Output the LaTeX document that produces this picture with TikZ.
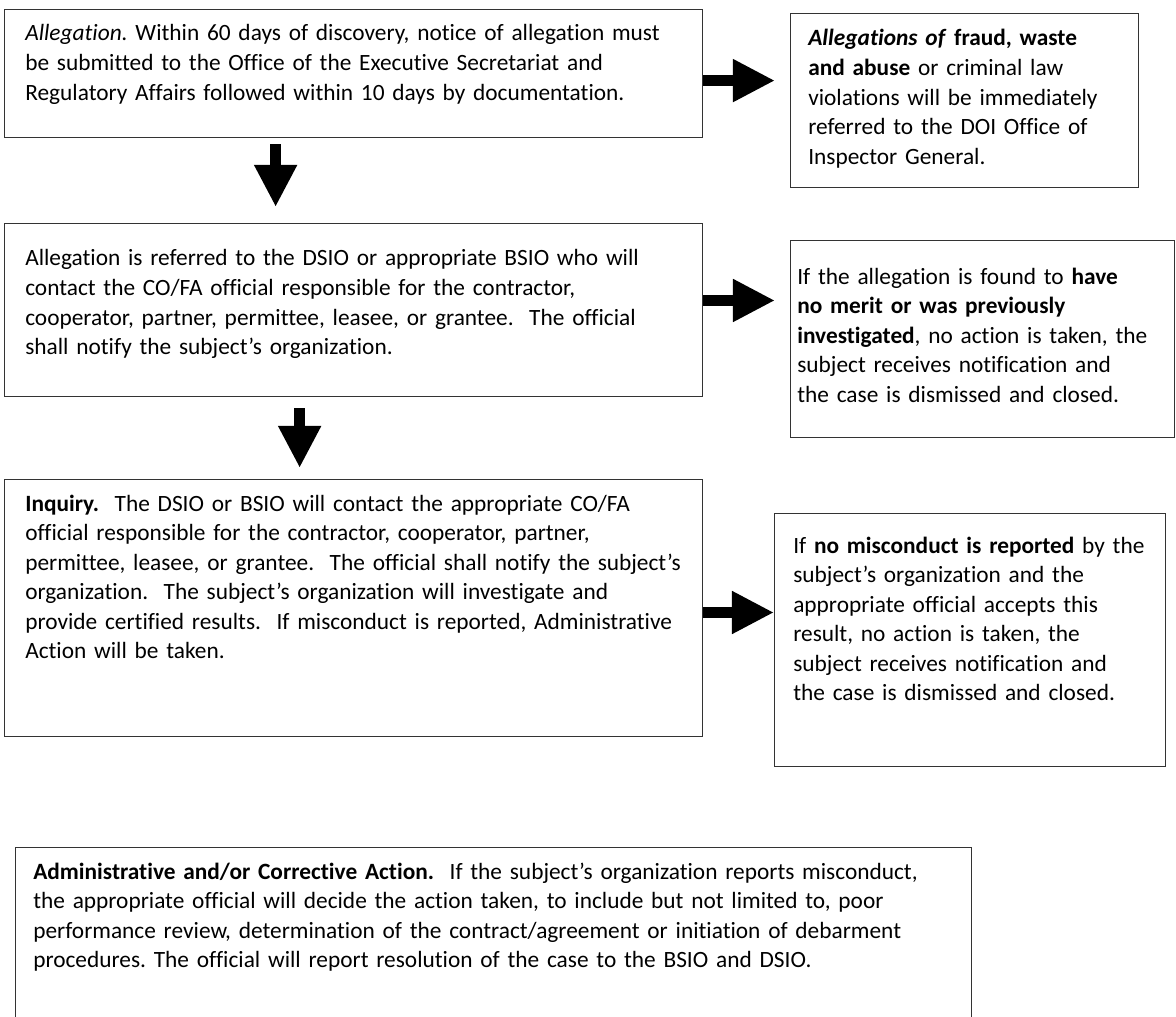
\documentclass[tikz,border=0pt]{standalone}
\usepackage{fontspec}
\setmainfont{Carlito}[Ligatures=NoCommon]
\frenchspacing
\usepackage{tikz}
\usetikzlibrary{arrows.meta, positioning}
\usepackage{xcolor}
\definecolor{boxline}{HTML}{333333}

\tikzset{
  flowbox/.style={draw=boxline, line width=0.8pt, anchor=north west, inner sep=0pt},
  flowtext/.style={anchor=base west, align=left, inner sep=0pt, font=\fontsize{16.6}{21}\selectfont},
  bigarrow/.style={line width=0.29cm, -{Triangle[length=1.05cm, width=1cm]}},
}

\begin{document}
\begin{tikzpicture}[x=0.025cm, y=-0.025cm]
\useasboundingbox (0,0) rectangle (1176,1017);

% left column
\node[flowbox, minimum width=17.45cm, minimum height=3.2cm] (alleg) at (4,9) {};
\node[flowtext, text width=17cm] (alleg-txt) at (25,41) {\textit{Allegation.} Within 60 days of discovery, notice of allegation must\\
  be submitted to the Office of the Executive Secretariat and\\
  Regulatory Affairs followed within 10 days by documentation.};

\node[flowbox, minimum width=17.45cm, minimum height=4.325cm] (refer) at (4,223) {};
\node[flowtext, text width=17cm] (refer-txt) at (25,266) {Allegation is referred to the DSIO or appropriate BSIO who will\\
  contact the CO/FA official responsible for the contractor,\\
  cooperator, partner, permittee, leasee, or grantee.\ \ The official\\
  shall notify the subject’s organization.};

\node[flowbox, minimum width=17.45cm, minimum height=6.425cm] (inquiry) at (4,479) {};
\node[flowtext, text width=17cm] (inquiry-txt) at (25,511) {\textbf{Inquiry.}\ \ The DSIO or BSIO will contact the appropriate CO/FA\\
  official responsible for the contractor, cooperator, partner,\\
  permittee, leasee, or grantee.\ \ The official shall notify the subject’s\\
  organization.\ \ The subject’s organization will investigate and\\
  provide certified results.\ \ If misconduct is reported, Administrative\\
  Action will be taken.};

% right column
\node[flowbox, minimum width=8.7cm, minimum height=4.35cm] (fraud) at (790,13) {};
\node[flowtext, text width=9.5cm] (fraud-txt) at (808,46) {\textbf{\textit{Allegations of\/} fraud, waste}\\
  \textbf{and abuse} or criminal law\\
  violations will be immediately\\
  referred to the DOI Office of\\
  Inspector General.};

\node[flowbox, minimum width=9.6cm, minimum height=4.925cm] (nomerit) at (790,240) {};
\node[flowtext, text width=10cm] (nomerit-txt) at (797,284) {If the allegation is found to \textbf{have}\\
  \textbf{no merit or was previously}\\
  \textbf{investigated}, no action is taken, the\\
  subject receives notification and\\
  the case is dismissed and closed.};

\node[flowbox, minimum width=9.775cm, minimum height=6.325cm] (nomisc) at (774,513) {};
\node[flowtext, text width=10cm] (nomisc-txt) at (793,553) {If \textbf{no misconduct is reported} by the\\
  subject’s organization and the\\
  appropriate official accepts this\\
  result, no action is taken, the\\
  subject receives notification and\\
  the case is dismissed and closed.};

% bottom box, runs off the page
\node[flowbox, minimum width=23.9cm, minimum height=4.825cm] (action) at (15,847) {};
\node[flowtext, text width=23.5cm] (action-txt) at (33,879) {\textbf{Administrative and/or Corrective Action.}\ \ If the subject’s organization reports misconduct,\\
  the appropriate official will decide the action taken, to include but not limited to, poor\\
  performance review, determination of the contract/agreement or initiation of debarment\\
  procedures. The official will report resolution of the case to the BSIO and DSIO.};

% arrows
\coordinate (a1) at ([yshift=-0.175cm]alleg.east);
\coordinate (a2) at ([yshift=0.24cm]refer.east);
\coordinate (a3) at ([yshift=-0.11cm]inquiry.east);
\draw[bigarrow, shorten >=0.375cm] (a1) -- (a1 -| fraud.west);
\draw[bigarrow, shorten >=0.375cm] (a2) -- (a2 -| nomerit.west);
\draw[bigarrow] (a3) -- (a3 -| nomisc.west);

\coordinate (d1) at ([xshift=-1.95cm]alleg.south);
\coordinate (d2) at ([xshift=-1.35cm]refer.south);
\draw[bigarrow, shorten <=0.15cm, shorten >=0.4cm] (d1) -- (d1 |- refer.north);
\draw[bigarrow, shorten <=0.275cm, shorten >=0.275cm] (d2) -- (d2 |- inquiry.north);
\end{tikzpicture}
\end{document}
